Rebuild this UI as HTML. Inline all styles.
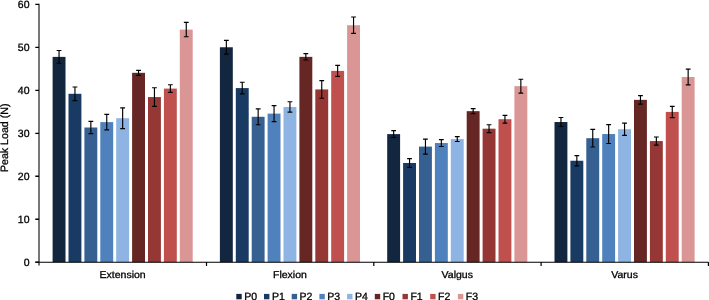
<!DOCTYPE html>
<html><head><meta charset="utf-8"><style>
html,body{margin:0;padding:0;background:#fff;}
body{width:709px;height:300px;overflow:hidden;font-family:"Liberation Sans",sans-serif;}
svg{display:block;will-change:transform;}
text{text-rendering:geometricPrecision;}
</style></head><body>
<svg width="709" height="300" viewBox="0 0 709 300">
<rect x="52.60" y="56.89" width="12.9" height="205.31" fill="#12263F" stroke="none"/>
<rect x="68.50" y="93.80" width="12.9" height="168.40" fill="#193A63" stroke="none"/>
<rect x="84.40" y="127.49" width="12.9" height="134.71" fill="#376092" stroke="none"/>
<rect x="100.30" y="122.12" width="12.9" height="140.08" fill="#4F81BD" stroke="none"/>
<rect x="116.20" y="118.21" width="12.9" height="143.99" fill="#8DB4E2" stroke="none"/>
<rect x="132.10" y="72.83" width="12.9" height="189.37" fill="#662624" stroke="none"/>
<rect x="148.00" y="97.07" width="12.9" height="165.13" fill="#953735" stroke="none"/>
<rect x="163.90" y="88.60" width="12.9" height="173.60" fill="#C0504D" stroke="none"/>
<rect x="179.80" y="29.60" width="12.9" height="232.60" fill="#D99694" stroke="none"/>
<rect x="219.90" y="47.26" width="12.9" height="214.94" fill="#12263F" stroke="none"/>
<rect x="235.80" y="88.09" width="12.9" height="174.11" fill="#193A63" stroke="none"/>
<rect x="251.70" y="116.79" width="12.9" height="145.41" fill="#376092" stroke="none"/>
<rect x="267.60" y="113.61" width="12.9" height="148.59" fill="#4F81BD" stroke="none"/>
<rect x="283.50" y="106.99" width="12.9" height="155.21" fill="#8DB4E2" stroke="none"/>
<rect x="299.40" y="56.85" width="12.9" height="205.35" fill="#662624" stroke="none"/>
<rect x="315.30" y="89.42" width="12.9" height="172.78" fill="#953735" stroke="none"/>
<rect x="331.20" y="70.90" width="12.9" height="191.30" fill="#C0504D" stroke="none"/>
<rect x="347.10" y="25.22" width="12.9" height="236.98" fill="#D99694" stroke="none"/>
<rect x="387.20" y="134.11" width="12.9" height="128.09" fill="#12263F" stroke="none"/>
<rect x="403.10" y="162.98" width="12.9" height="99.22" fill="#193A63" stroke="none"/>
<rect x="419.00" y="146.61" width="12.9" height="115.59" fill="#376092" stroke="none"/>
<rect x="434.90" y="143.04" width="12.9" height="119.16" fill="#4F81BD" stroke="none"/>
<rect x="450.80" y="139.09" width="12.9" height="123.11" fill="#8DB4E2" stroke="none"/>
<rect x="466.70" y="111.16" width="12.9" height="151.04" fill="#662624" stroke="none"/>
<rect x="482.60" y="128.69" width="12.9" height="133.51" fill="#953735" stroke="none"/>
<rect x="498.50" y="119.20" width="12.9" height="143.00" fill="#C0504D" stroke="none"/>
<rect x="514.40" y="86.15" width="12.9" height="176.05" fill="#D99694" stroke="none"/>
<rect x="554.50" y="122.03" width="12.9" height="140.17" fill="#12263F" stroke="none"/>
<rect x="570.40" y="160.75" width="12.9" height="101.45" fill="#193A63" stroke="none"/>
<rect x="586.30" y="138.19" width="12.9" height="124.01" fill="#376092" stroke="none"/>
<rect x="602.20" y="134.06" width="12.9" height="128.14" fill="#4F81BD" stroke="none"/>
<rect x="618.10" y="129.21" width="12.9" height="132.99" fill="#8DB4E2" stroke="none"/>
<rect x="634.00" y="99.86" width="12.9" height="162.34" fill="#662624" stroke="none"/>
<rect x="649.90" y="141.07" width="12.9" height="121.13" fill="#953735" stroke="none"/>
<rect x="665.80" y="111.93" width="12.9" height="150.27" fill="#C0504D" stroke="none"/>
<rect x="681.70" y="77.00" width="12.9" height="185.20" fill="#D99694" stroke="none"/>
<g stroke="#000" stroke-width="1.15" fill="none"><path d="M59.05 50.49V63.29M56.65 50.49H61.45M56.65 63.29H61.45"/><path d="M74.95 87.01V100.59M72.55 87.01H77.35M72.55 100.59H77.35"/><path d="M90.85 121.43V133.55M88.45 121.43H93.25M88.45 133.55H93.25"/><path d="M106.75 114.38V129.85M104.35 114.38H109.15M104.35 129.85H109.15"/><path d="M122.65 107.85V128.56M120.25 107.85H125.05M120.25 128.56H125.05"/><path d="M138.55 70.34V75.32M136.15 70.34H140.95M136.15 75.32H140.95"/><path d="M154.45 87.78V106.35M152.05 87.78H156.85M152.05 106.35H156.85"/><path d="M170.35 84.78V92.43M167.95 84.78H172.75M167.95 92.43H172.75"/><path d="M186.25 22.43V36.78M183.85 22.43H188.65M183.85 36.78H188.65"/><path d="M226.35 40.35V54.18M223.95 40.35H228.75M223.95 54.18H228.75"/><path d="M242.25 82.28V93.89M239.85 82.28H244.65M239.85 93.89H244.65"/><path d="M258.15 108.88V124.70M255.75 108.88H260.55M255.75 124.70H260.55"/><path d="M274.05 105.66V121.56M271.65 105.66H276.45M271.65 121.56H276.45"/><path d="M289.95 101.79V112.19M287.55 101.79H292.35M287.55 112.19H292.35"/><path d="M305.85 53.67V60.03M303.45 53.67H308.25M303.45 60.03H308.25"/><path d="M321.75 80.61V98.23M319.35 80.61H324.15M319.35 98.23H324.15"/><path d="M337.65 65.44V76.35M335.25 65.44H340.05M335.25 76.35H340.05"/><path d="M353.55 17.01V33.43M351.15 17.01H355.95M351.15 33.43H355.95"/><path d="M393.65 130.67V137.54M391.25 130.67H396.05M391.25 137.54H396.05"/><path d="M409.55 158.60V167.37M407.15 158.60H411.95M407.15 167.37H411.95"/><path d="M425.45 139.13V154.09M423.05 139.13H427.85M423.05 154.09H427.85"/><path d="M441.35 139.56V146.52M438.95 139.56H443.75M438.95 146.52H443.75"/><path d="M457.25 136.64V141.54M454.85 136.64H459.65M454.85 141.54H459.65"/><path d="M473.15 108.58V113.74M470.75 108.58H475.55M470.75 113.74H475.55"/><path d="M489.05 124.78V132.60M486.65 124.78H491.45M486.65 132.60H491.45"/><path d="M504.95 115.33V123.06M502.55 115.33H507.35M502.55 123.06H507.35"/><path d="M520.85 79.23V93.07M518.45 79.23H523.25M518.45 93.07H523.25"/><path d="M560.95 117.52V126.54M558.55 117.52H563.35M558.55 126.54H563.35"/><path d="M576.85 155.63V165.86M574.45 155.63H579.25M574.45 165.86H579.25"/><path d="M592.75 129.42V146.95M590.35 129.42H595.15M590.35 146.95H595.15"/><path d="M608.65 124.65V143.47M606.25 124.65H611.05M606.25 143.47H611.05"/><path d="M624.55 123.06V135.35M622.15 123.06H626.95M622.15 135.35H626.95"/><path d="M640.45 95.56V104.16M638.05 95.56H642.85M638.05 104.16H642.85"/><path d="M656.35 137.03V145.11M653.95 137.03H658.75M653.95 145.11H658.75"/><path d="M672.25 106.30V117.56M669.85 106.30H674.65M669.85 117.56H674.65"/><path d="M688.15 69.18V84.82M685.75 69.18H690.55M685.75 84.82H690.55"/></g>
<g stroke="#777" stroke-width="2" fill="none"><path d="M39.0 3.8V265.6"/>
<path d="M35.3 262.20H39.0M35.3 219.23H39.0M35.3 176.26H39.0M35.3 133.29H39.0M35.3 90.32H39.0M35.3 47.35H39.0M35.3 4.38H39.0" stroke="#000" stroke-width="1.3"/></g>
<path d="M35.3 262.25H708.5M206.50 262.2V265.9M373.80 262.2V265.9M541.10 262.2V265.9M708.40 262.2V265.9" stroke="#000" stroke-width="1.2" fill="none"/>
<g font-family="&quot;Liberation Sans&quot;, sans-serif" font-size="10.5" fill="#000" stroke="#000" stroke-width="0.3">
<text x="29.5" y="266.00" text-anchor="end">0</text>
<text x="29.5" y="223.03" text-anchor="end">10</text>
<text x="29.5" y="180.06" text-anchor="end">20</text>
<text x="29.5" y="137.09" text-anchor="end">30</text>
<text x="29.5" y="94.12" text-anchor="end">40</text>
<text x="29.5" y="51.15" text-anchor="end">50</text>
<text x="29.5" y="8.18" text-anchor="end">60</text>
<text transform="translate(122.65 278.1) scale(1.05 1)" font-size="10" text-anchor="middle">Extension</text>
<text transform="translate(289.95 278.1) scale(1.05 1)" font-size="10" text-anchor="middle">Flexion</text>
<text transform="translate(457.25 278.1) scale(1.05 1)" font-size="10" text-anchor="middle">Valgus</text>
<text transform="translate(624.55 278.1) scale(1.05 1)" font-size="10" text-anchor="middle">Varus</text>
<text transform="translate(8.0 137.8) rotate(-90)" font-size="10.65" text-anchor="middle">Peak Load (N)</text>
<rect x="236.30" y="293.9" width="5.4" height="5.4" fill="#12263F" stroke="none"/>
<text x="244.20" y="299.8">P0</text>
<rect x="264.00" y="293.9" width="5.4" height="5.4" fill="#193A63" stroke="none"/>
<text x="271.90" y="299.8">P1</text>
<rect x="291.70" y="293.9" width="5.4" height="5.4" fill="#376092" stroke="none"/>
<text x="299.60" y="299.8">P2</text>
<rect x="319.40" y="293.9" width="5.4" height="5.4" fill="#4F81BD" stroke="none"/>
<text x="327.30" y="299.8">P3</text>
<rect x="347.10" y="293.9" width="5.4" height="5.4" fill="#8DB4E2" stroke="none"/>
<text x="355.00" y="299.8">P4</text>
<rect x="374.80" y="293.9" width="5.4" height="5.4" fill="#662624" stroke="none"/>
<text x="382.70" y="299.8">F0</text>
<rect x="402.50" y="293.9" width="5.4" height="5.4" fill="#953735" stroke="none"/>
<text x="410.40" y="299.8">F1</text>
<rect x="430.20" y="293.9" width="5.4" height="5.4" fill="#C0504D" stroke="none"/>
<text x="438.10" y="299.8">F2</text>
<rect x="457.90" y="293.9" width="5.4" height="5.4" fill="#D99694" stroke="none"/>
<text x="465.80" y="299.8">F3</text>
</g>
</svg>
</body></html>
